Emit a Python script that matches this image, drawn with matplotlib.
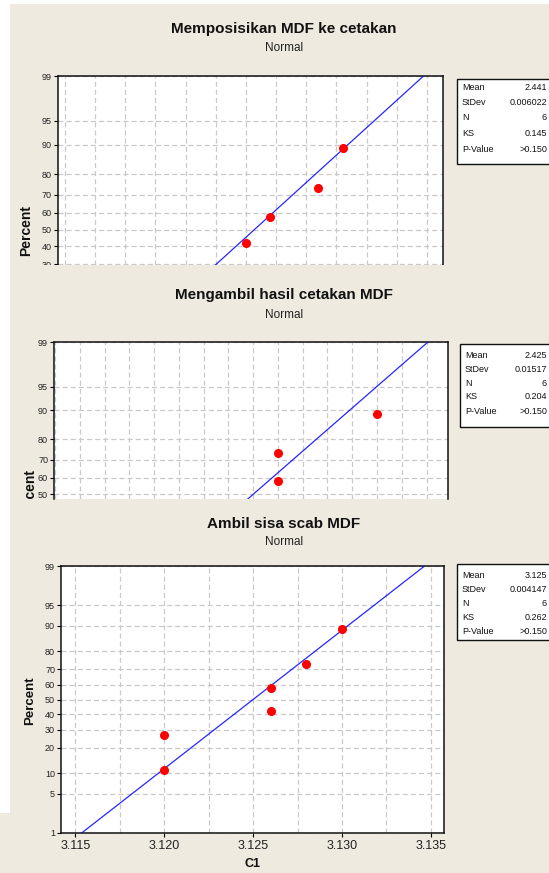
import numpy as np
import matplotlib.pyplot as plt
from matplotlib.patches import Rectangle
from matplotlib.ticker import MultipleLocator, FixedLocator
from matplotlib.transforms import Bbox, TransformedBbox
from statistics import NormalDist

# ---------------- data ----------------
titles = ["Memposisikan MDF ke cetakan", "Mengambil hasil cetakan MDF", "Ambil sisa scab MDF"]

# panel 1 (only the upper points are visible, the rest is cropped away)
x1 = [2.440, 2.442, 2.446, 2.448]
pct1 = [42.2, 57.8, 73.4, 89.1]
# panel 2
x2 = [2.430, 2.430, 2.450]
pct2 = [57.8, 73.4, 89.1]
# panel 3
x3 = [3.120, 3.120, 3.126, 3.126, 3.128, 3.130]
pct3 = [10.9, 26.6, 42.2, 57.8, 73.4, 89.1]

# fitted normal line (mean, stdev)
fit_mean = [2.4407, 2.425, 3.125]
fit_sd = [0.006022, 0.01517, 0.004147]

stat_names = ["Mean", "StDev", "N", "KS", "P-Value"]
stat_vals1 = ["2.441", "0.006022", "6", "0.145", ">0.150"]
stat_vals2 = ["2.425", "0.01517", "6", "0.204", ">0.150"]
stat_vals3 = ["3.125", "0.004147", "6", "0.262", ">0.150"]

yticks1 = [30, 40, 50, 60, 70, 80, 90, 95, 99]
yticks2 = [50, 60, 70, 80, 90, 95, 99]
yticks3 = [1, 5, 10, 20, 30, 40, 50, 60, 70, 80, 90, 95, 99]
xticks3 = [3.115, 3.120, 3.125, 3.130, 3.135]

# ---------------- helpers ----------------
W, H = 549, 873
BEIGE = "#EEEAE0"
GRID = "#C9C9C9"
FONT = "Liberation Sans"

_nd = NormalDist()
_ppf = np.vectorize(_nd.inv_cdf, otypes=[float])
_cdf = np.vectorize(_nd.cdf, otypes=[float])


def fwd(p):
    p = np.clip(np.asarray(p, float) / 100.0, 1e-9, 1 - 1e-9)
    return _ppf(p)


def inv(z):
    return 100.0 * _cdf(np.asarray(z, float))


def frac(l, t, r, b):
    return [l / W, 1 - b / H, (r - l) / W, (b - t) / H]


def fig_rect(l, t, r, b, color, z, **kw):
    x, y, w, h = frac(l, t, r, b)
    fig.add_artist(Rectangle((x, y), w, h, transform=fig.transFigure,
                             facecolor=color, edgecolor="none", zorder=z, **kw))


def ftext(x, y, s, **kw):
    return fig.text(x / W, 1 - y / H, s, **kw)


plt.rcParams["font.family"] = [FONT, "DejaVu Sans"]

fig = plt.figure(figsize=(W / 100, H / 100), dpi=100)
fig.patch.set_facecolor("white")
fig_rect(10, 4, W, H, BEIGE, -5)
fig_rect(0, 813, 10, H, BEIGE, -5)


def panel(box, ylim, xlim, xstep, yticks, xs, ps, mu, sd, title_y, sub_y, title,
          ylab_xy, ylab_size, stat_box, stat_rows, stat_vals, bottom_axis, crop_y=None):
    ax = fig.add_axes(frac(*box))
    ax.set_facecolor("white")
    ax.set_yscale("function", functions=(fwd, inv))
    ax.set_ylim(*ylim)
    ax.set_xlim(*xlim)

    # grid
    ax.yaxis.set_major_locator(FixedLocator(yticks))
    ax.yaxis.set_minor_locator(FixedLocator([]))
    ax.set_yticklabels([str(t) for t in yticks])
    ax.xaxis.set_minor_locator(MultipleLocator(xstep))
    ax.grid(True, which="both", color=GRID, linestyle=(0, (4, 2.5)), linewidth=0.9)
    ax.set_axisbelow(True)

    ax.tick_params(axis="y", which="major", length=3, width=0.8, pad=1.5,
                   labelsize=6.5, labelcolor="#222222")
    ax.tick_params(axis="x", which="minor", length=0)
    if bottom_axis:
        ax.xaxis.set_major_locator(FixedLocator(xticks3))
        ax.set_xticklabels(["%.3f" % v for v in xticks3])
        ax.tick_params(axis="x", which="major", length=3, width=0.8, pad=2,
                       labelsize=9, labelcolor="#222222")
    else:
        ax.xaxis.set_major_locator(MultipleLocator(xstep))
        ax.tick_params(axis="x", which="major", length=0, labelbottom=False)
        ax.spines["bottom"].set_visible(False)
    for s in ax.spines.values():
        s.set_linewidth(1.1)
        s.set_color("#111111")

    # fitted line and points
    ends = [1, 99]
    ax.plot([mu + sd * _nd.inv_cdf(p / 100) for p in ends], ends,
            color="#0000FF", linewidth=0.9, alpha=0.85, zorder=3)
    ax.plot(xs, ps, "o", color="#FF0000", markersize=5.5, zorder=4, clip_on=True)

    cx = 284
    ftext(cx, title_y, title, ha="center", va="center", fontsize=11,
          fontweight="bold", color="#111111")
    ftext(cx, sub_y, "Normal", ha="center", va="center", fontsize=8.5, color="#222222")
    lab = ftext(ylab_xy[0], ylab_xy[1], "Percent", ha="center", va="center", rotation=90,
                fontsize=ylab_size, fontweight="bold", color="#111111", zorder=2)
    if crop_y is not None:
        clip = Bbox.from_bounds(0, 1 - crop_y / H, 1, crop_y / H)
        lab.set_clip_box(TransformedBbox(clip, fig.transFigure))
        lab.set_clip_on(True)

    # stats box (cut at the right edge)
    l, t, r, b = stat_box
    x, y, w, h = frac(l, t, r, b)
    fig.add_artist(Rectangle((x, y), w, h, transform=fig.transFigure,
                             facecolor="white", edgecolor="#111111", linewidth=1.0, zorder=2))
    for name, val, ry in zip(stat_names, stat_vals, stat_rows):
        ftext(l + 5, ry, name, ha="left", va="center", fontsize=6.5, color="#111111", zorder=3)
        ftext(547, ry, val, ha="right", va="center", fontsize=6.5, color="#111111", zorder=3)
    return ax


panel((57.8, 76, 443, 264.5), (29.85, 99), (2.42442, 2.45632), 0.0025, yticks1,
      x1, pct1, fit_mean[0], fit_sd[0], 28.5, 48, titles[0], (26, 230), 10,
      (457, 79, 560, 164), [87, 102.5, 118, 133.5, 149.5], stat_vals1, False)

panel((54.3, 342, 448, 499), (47.15, 99), (2.38485, 2.46434), 0.005, yticks2,
      x2, pct2, fit_mean[1], fit_sd[1], 295, 315, titles[1], (30, 494.5), 10,
      (460, 344, 560, 427), [355, 369, 383, 397, 411], stat_vals2, False, crop_y=499.5)

ax3 = panel((61.3, 566, 444, 833), (1, 99), (3.11421, 3.13574), 0.0025, yticks3,
            x3, pct3, fit_mean[2], fit_sd[2], 524, 542, titles[2], (30, 701), 9.5,
            (457, 564, 560, 640), [575, 589, 603, 617, 632], stat_vals3, True)
ftext(252.5, 864, "C1", ha="center", va="center", fontsize=9, fontweight="bold",
      color="#111111")

# crop edges of the first two images
fig_rect(0, 265, W, 282, BEIGE, 10)
fig_rect(10, 499.5, W, 508, BEIGE, 10)
fig_rect(0, 265, 10, 282, "white", 11)
fig_rect(0, 499.5, 10, 508, "white", 11)

fig.savefig("out.png", dpi=100, facecolor=fig.get_facecolor())
